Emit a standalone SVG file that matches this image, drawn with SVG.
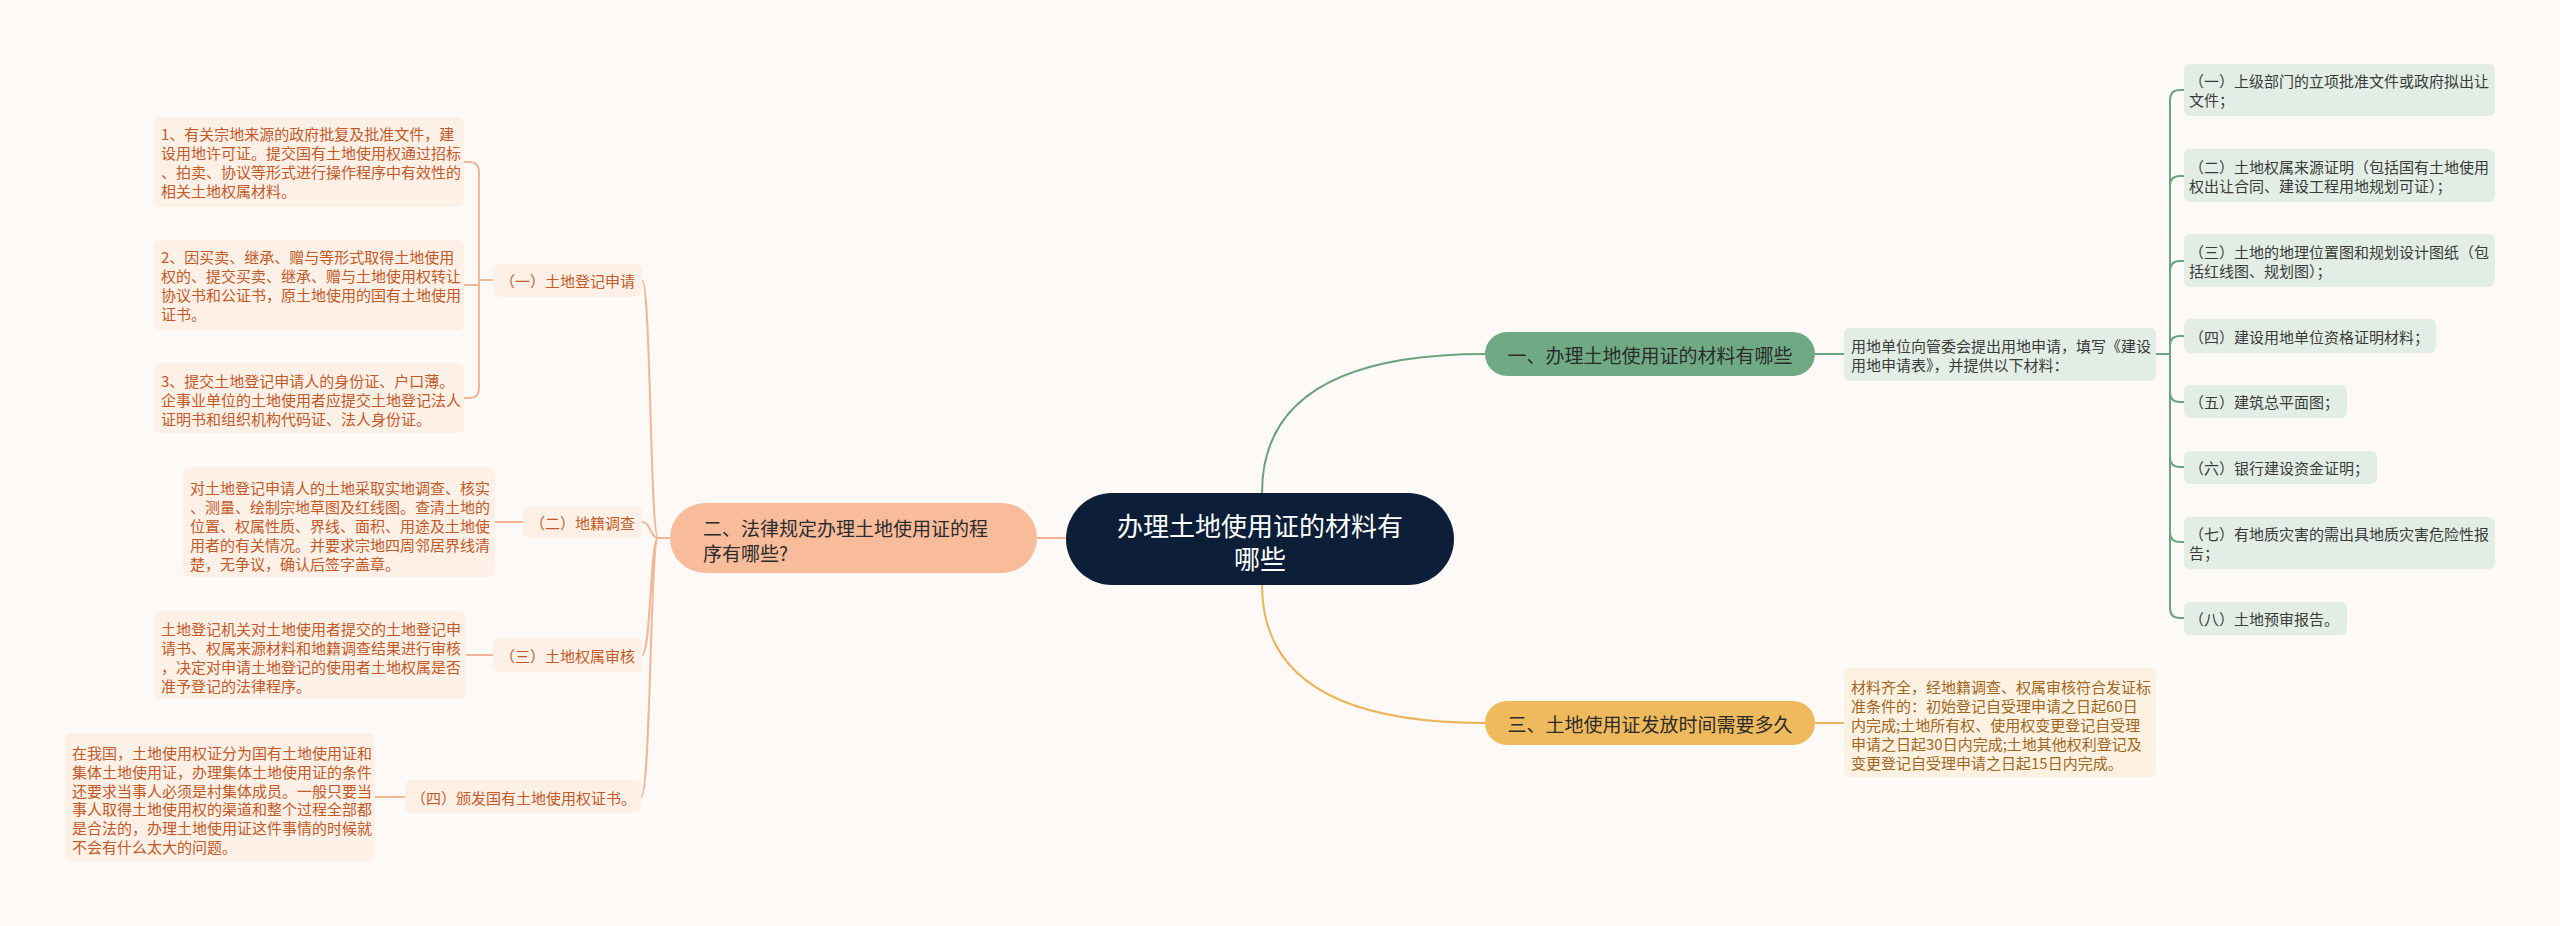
<svg xmlns="http://www.w3.org/2000/svg" width="2560" height="926" viewBox="0 0 2560 926">
<style>
text{font-family:"Microsoft YaHei","Noto Sans CJK SC","Noto Sans",sans-serif;dominant-baseline:central}
.lbox{fill:#fdf0e7}
.ltx{font-size:15px;fill:#c25a27}
.gbox{fill:#e2eee5}
.gtx{font-size:15px;fill:#3a3a3a}
.ybox{fill:#fdf2e2}
.ytx{font-size:15px;fill:#a0661d}
.lc{fill:none;stroke:#f2b796;stroke-width:2}
.gc{fill:none;stroke:#6aa47f;stroke-width:2}
.yc{fill:none;stroke:#ecb55a;stroke-width:2}
.mtx{font-size:19px;fill:#2b2b2b}
</style>
<rect width="2560" height="926" fill="#fdf9f7"/>
<g id="connectors">
<path class="gc" stroke-width="2.5" d="M1262,493 Q1262,354 1485,354"/>
<path class="yc" stroke-width="2.5" d="M1262,585 Q1262,723 1485,723"/>
<path class="lc" stroke-width="2.5" d="M1037,538 L1066,538"/>
<path class="gc" d="M1815,354 L1844,354"/>
<path class="yc" d="M1815,723 L1844,723"/>
<path class="gc" d="M2156,354 L2170,354 L2170,100 Q2170,90 2180,90 L2184,90"/>
<path class="gc" d="M2170,354 L2170,186 Q2170,176 2180,176 L2184,176"/>
<path class="gc" d="M2170,354 L2170,271 Q2170,261 2180,261 L2184,261"/>
<path class="gc" d="M2170,354 L2170,346 Q2170,336 2180,336 L2184,336"/>
<path class="gc" d="M2170,354 L2170,392 Q2170,402 2180,402 L2184,402"/>
<path class="gc" d="M2170,354 L2170,457 Q2170,467 2180,467 L2184,467"/>
<path class="gc" d="M2170,354 L2170,532 Q2170,542 2180,542 L2184,542"/>
<path class="gc" d="M2170,354 L2170,608 Q2170,618 2180,618 L2184,618"/>
<path class="lc" d="M670,538 L658,538 C650,538 651,280 642,280"/>
<path class="lc" d="M658,538 C650,538 651,522 642,522"/>
<path class="lc" d="M658,538 C650,538 651,655 642,655"/>
<path class="lc" d="M658,538 C650,538 651,797 641,797"/>
<path class="lc" d="M493,280 L479,280 L479,172 Q479,162 469,162 L464,162"/>
<path class="lc" d="M479,280 L479,284 Q479,285 474,285 L464,285"/>
<path class="lc" d="M479,280 L479,388 Q479,398 469,398 L464,398"/>
<path class="lc" d="M495,522 L523,522"/>
<path class="lc" d="M466,655 L493,655"/>
<path class="lc" d="M375,797 L405,797"/>
</g>
<g id="center">
<rect x="1066" y="493" width="388" height="92" rx="46" fill="#0d1f38"/>
<text x="1260" y="524" font-size="26" fill="#ffffff" text-anchor="middle">办理土地使用证的材料有</text>
<text x="1260" y="557" font-size="26" fill="#ffffff" text-anchor="middle">哪些</text>
</g>
<g id="main-left">
<rect x="670" y="503" width="367" height="70" rx="35" fill="#f8bc9b"/>
<text class="mtx" x="703" y="527">二、法律规定办理土地使用证的程</text>
<text class="mtx" x="703" y="552">序有哪些?</text>
</g>
<g id="main-1">
<rect x="1485" y="332" width="330" height="44" rx="22" fill="#6faa84"/>
<text class="mtx" x="1650" y="354" text-anchor="middle" fill="#1f2f24">一、办理土地使用证的材料有哪些</text>
</g>
<g id="main-3">
<rect x="1485" y="701" width="330" height="44" rx="22" fill="#efb95e"/>
<text class="mtx" x="1650" y="723" text-anchor="middle" fill="#2e2615">三、土地使用证发放时间需要多久</text>
</g>
<g id="desc-1">
<rect class="gbox" x="1844" y="328" width="312" height="53" rx="6"/>
<text class="gtx" x="1851" y="345.5">用地单位向管委会提出用地申请，填写《建设</text>
<text class="gtx" x="1851" y="364.5">用地申请表》，并提供以下材料：</text>
</g>
<g id="desc-3">
<rect class="ybox" x="1844" y="668" width="312" height="109" rx="6"/>
<text class="ytx" x="1851" y="686">材料齐全，经地籍调查、权属审核符合发证标</text>
<text class="ytx" x="1851" y="705">准条件的：初始登记自受理申请之日起60日</text>
<text class="ytx" x="1851" y="724">内完成;土地所有权、使用权变更登记自受理</text>
<text class="ytx" x="1851" y="743">申请之日起30日内完成;土地其他权利登记及</text>
<text class="ytx" x="1851" y="762">变更登记自受理申请之日起15日内完成。</text>
</g>
<g id="r1">
<rect class="gbox" x="2184" y="64" width="311" height="52" rx="6"/>
<text class="gtx" x="2189" y="80.5">（一）上级部门的立项批准文件或政府拟出让</text>
<text class="gtx" x="2189" y="99.5">文件；</text>
</g>
<g id="r2">
<rect class="gbox" x="2184" y="149" width="311" height="53" rx="6"/>
<text class="gtx" x="2189" y="166">（二）土地权属来源证明（包括国有土地使用</text>
<text class="gtx" x="2189" y="185">权出让合同、建设工程用地规划可证）；</text>
</g>
<g id="r3">
<rect class="gbox" x="2184" y="234" width="311" height="53" rx="6"/>
<text class="gtx" x="2189" y="251">（三）土地的地理位置图和规划设计图纸（包</text>
<text class="gtx" x="2189" y="270">括红线图、规划图）；</text>
</g>
<g id="r4">
<rect class="gbox" x="2184" y="319" width="252" height="34" rx="6"/>
<text class="gtx" x="2189" y="336">（四）建设用地单位资格证明材料；</text>
</g>
<g id="r5">
<rect class="gbox" x="2184" y="385" width="163" height="33" rx="6"/>
<text class="gtx" x="2189" y="401.5">（五）建筑总平面图；</text>
</g>
<g id="r6">
<rect class="gbox" x="2184" y="451" width="193" height="33" rx="6"/>
<text class="gtx" x="2189" y="467.5">（六）银行建设资金证明；</text>
</g>
<g id="r7">
<rect class="gbox" x="2184" y="517" width="311" height="52" rx="6"/>
<text class="gtx" x="2189" y="533.5">（七）有地质灾害的需出具地质灾害危险性报</text>
<text class="gtx" x="2189" y="552.5">告；</text>
</g>
<g id="r8">
<rect class="gbox" x="2184" y="602" width="163" height="33" rx="6"/>
<text class="gtx" x="2189" y="618.5">（八）土地预审报告。</text>
</g>
<g id="l1">
<rect class="lbox" x="493" y="264" width="149" height="33" rx="6"/>
<text class="ltx" x="500" y="280.5">（一）土地登记申请</text>
</g>
<g id="l1a">
<rect class="lbox" x="154" y="117" width="310" height="90" rx="6"/>
<text class="ltx" x="161" y="133.5">1、有关宗地来源的政府批复及批准文件，建</text>
<text class="ltx" x="161" y="152.5">设用地许可证。提交国有土地使用权通过招标</text>
<text class="ltx" x="161" y="171.5">、拍卖、协议等形式进行操作程序中有效性的</text>
<text class="ltx" x="161" y="190.5">相关土地权属材料。</text>
</g>
<g id="l1b">
<rect class="lbox" x="154" y="240" width="310" height="90" rx="6"/>
<text class="ltx" x="161" y="256.5">2、因买卖、继承、赠与等形式取得土地使用</text>
<text class="ltx" x="161" y="275.5">权的、提交买卖、继承、赠与土地使用权转让</text>
<text class="ltx" x="161" y="294.5">协议书和公证书，原土地使用的国有土地使用</text>
<text class="ltx" x="161" y="313.5">证书。</text>
</g>
<g id="l1c">
<rect class="lbox" x="154" y="363" width="310" height="70" rx="6"/>
<text class="ltx" x="161" y="380">3、提交土地登记申请人的身份证、户口薄。</text>
<text class="ltx" x="161" y="399">企事业单位的土地使用者应提交土地登记法人</text>
<text class="ltx" x="161" y="418">证明书和组织机构代码证、法人身份证。</text>
</g>
<g id="l2">
<rect class="lbox" x="523" y="506" width="119" height="32" rx="6"/>
<text class="ltx" x="530" y="522">（二）地籍调查</text>
</g>
<g id="l2a">
<rect class="lbox" x="183" y="467" width="312" height="110" rx="6"/>
<text class="ltx" x="190" y="487">对土地登记申请人的土地采取实地调查、核实</text>
<text class="ltx" x="190" y="506">、测量、绘制宗地草图及红线图。查清土地的</text>
<text class="ltx" x="190" y="525">位置、权属性质、界线、面积、用途及土地使</text>
<text class="ltx" x="190" y="544">用者的有关情况。并要求宗地四周邻居界线清</text>
<text class="ltx" x="190" y="563">楚，无争议，确认后签字盖章。</text>
</g>
<g id="l3">
<rect class="lbox" x="493" y="638" width="149" height="34" rx="6"/>
<text class="ltx" x="500" y="655">（三）土地权属审核</text>
</g>
<g id="l3a">
<rect class="lbox" x="154" y="611" width="312" height="88" rx="6"/>
<text class="ltx" x="161" y="628">土地登记机关对土地使用者提交的土地登记申</text>
<text class="ltx" x="161" y="647">请书、权属来源材料和地籍调查结果进行审核</text>
<text class="ltx" x="161" y="666">，决定对申请土地登记的使用者土地权属是否</text>
<text class="ltx" x="161" y="685">准予登记的法律程序。</text>
</g>
<g id="l4">
<rect class="lbox" x="405" y="780" width="236" height="33" rx="6"/>
<text class="ltx" x="411" y="797">（四）颁发国有土地使用权证书。</text>
</g>
<g id="l4a">
<rect class="lbox" x="65" y="733" width="310" height="129" rx="6"/>
<text class="ltx" x="72" y="752">在我国，土地使用权证分为国有土地使用证和</text>
<text class="ltx" x="72" y="771">集体土地使用证，办理集体土地使用证的条件</text>
<text class="ltx" x="72" y="790">还要求当事人必须是村集体成员。一般只要当</text>
<text class="ltx" x="72" y="808">事人取得土地使用权的渠道和整个过程全部都</text>
<text class="ltx" x="72" y="827">是合法的，办理土地使用证这件事情的时候就</text>
<text class="ltx" x="72" y="846">不会有什么太大的问题。</text>
</g>
</svg>
